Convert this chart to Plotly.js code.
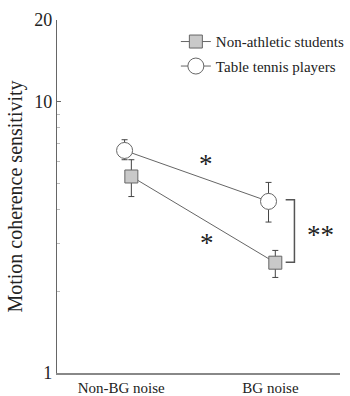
<!DOCTYPE html>
<html>
<head>
<meta charset="utf-8">
<script src="https://cdn.plot.ly/plotly-3.0.1.min.js"></script>
<style>html,body{margin:0;padding:0;background:#fff;}#chart{width:350px;height:396px;}</style>
</head>
<body>
<div id="chart"></div>
<script>
const conditions = ["Non-BG noise", "BG noise"];
const conditionIndex = [0, 1];
const nonAthleticMean = [5.30, 2.55];
const nonAthleticUpper = [6.11, 2.83];
const nonAthleticLower = [4.47, 2.25];
const tennisMean = [6.61, 4.29];
const tennisUpper = [7.24, 5.04];
const tennisLower = [6.11, 3.60];
const yTickVals = [1, 10, 20];
const yMinorVals = [2, 3, 4, 5, 6, 7, 8, 9];

const offset = 0.0235;
function plus(arr, d) { return arr.map(v => v + d); }
function diff(a, b) { return a.map((v, i) => v - b[i]); }

const font = "'Liberation Serif', 'Times New Roman', serif";

const traces = [
  {
    type: "scatter", mode: "lines+markers",
    name: "Non-athletic students",
    x: plus(conditionIndex, offset), y: nonAthleticMean,
    line: {color: "#666", width: 1},
    marker: {symbol: "square", size: 13, color: "#c9c9c9", line: {color: "#666", width: 1}},
    error_y: {type: "data", symmetric: false, array: diff(nonAthleticUpper, nonAthleticMean),
      arrayminus: diff(nonAthleticMean, nonAthleticLower), color: "#444", thickness: 1, width: 3},
    legendgroup: "a"
  },
  {
    type: "scatter", mode: "lines+markers",
    name: "Table tennis players",
    x: plus(conditionIndex, -offset), y: tennisMean,
    line: {color: "#666", width: 1},
    marker: {symbol: "circle", size: 16, color: "#ffffff", line: {color: "#666", width: 1}},
    error_y: {type: "data", symmetric: false, array: diff(tennisUpper, tennisMean),
      arrayminus: diff(tennisMean, tennisLower), color: "#444", thickness: 1, width: 3},
    legendgroup: "b"
  }
];

const layout = {
  width: 350, height: 396,
  margin: {l: 57, r: 0, t: 20, b: 23},
  paper_bgcolor: "#fff", plot_bgcolor: "#fff",
  font: {family: font, color: "#222", size: 16},
  showlegend: true,
  legend: {x: 0.42, y: 0.985, xanchor: "left", yanchor: "top", bgcolor: "rgba(0,0,0,0)",
    font: {family: font, size: 15, color: "#222"}, traceorder: "grouped", tracegroupgap: 2},
  xaxis: {
    range: [-0.493, 1.473], tickvals: [-0.047, 0.99], ticktext: conditions,
    showgrid: false, zeroline: false, showline: true, linecolor: "#888", linewidth: 1.5,
    ticks: "", tickangle: 0, tickfont: {family: font, size: 15, color: "#222"}
  },
  yaxis: {
    type: "log", range: [0, Math.log10(20)],
    tickvals: yTickVals, ticktext: yTickVals.map(String),
    showgrid: false, zeroline: false, showline: true, linecolor: "#666", linewidth: 1.2,
    ticks: "inside", ticklen: 4, tickcolor: "#666", tickwidth: 1,
    minor: {tickvals: yMinorVals, ticks: "inside", ticklen: 3, tickcolor: "#bbb", tickwidth: 1},
    tickfont: {family: font, size: 18, color: "#222"},
    title: {text: "Motion coherence sensitivity", font: {family: font, size: 20, color: "#222"}, standoff: 6}
  },
  shapes: [
    {type: "path", xref: "paper", yref: "paper",
     path: "M 0.808 0.491 L 0.839 0.491 L 0.839 0.314 L 0.808 0.314",
     line: {color: "#555", width: 1.5}}
  ],
  annotations: [
    {xref: "paper", yref: "paper", x: 0.525, y: 0.592, xanchor: "center", yanchor: "middle", text: "*", showarrow: false, font: {family: font, size: 27, color: "#222"}},
    {xref: "paper", yref: "paper", x: 0.530, y: 0.367, xanchor: "center", yanchor: "middle", text: "*", showarrow: false, font: {family: font, size: 27, color: "#222"}},
    {xref: "paper", yref: "paper", x: 0.932, y: 0.391, xanchor: "center", yanchor: "middle", text: "**", showarrow: false, font: {family: font, size: 27, color: "#222"}}
  ]
};

Plotly.newPlot("chart", traces, layout, {displayModeBar: false, staticPlot: true});
</script>
</body>
</html>
